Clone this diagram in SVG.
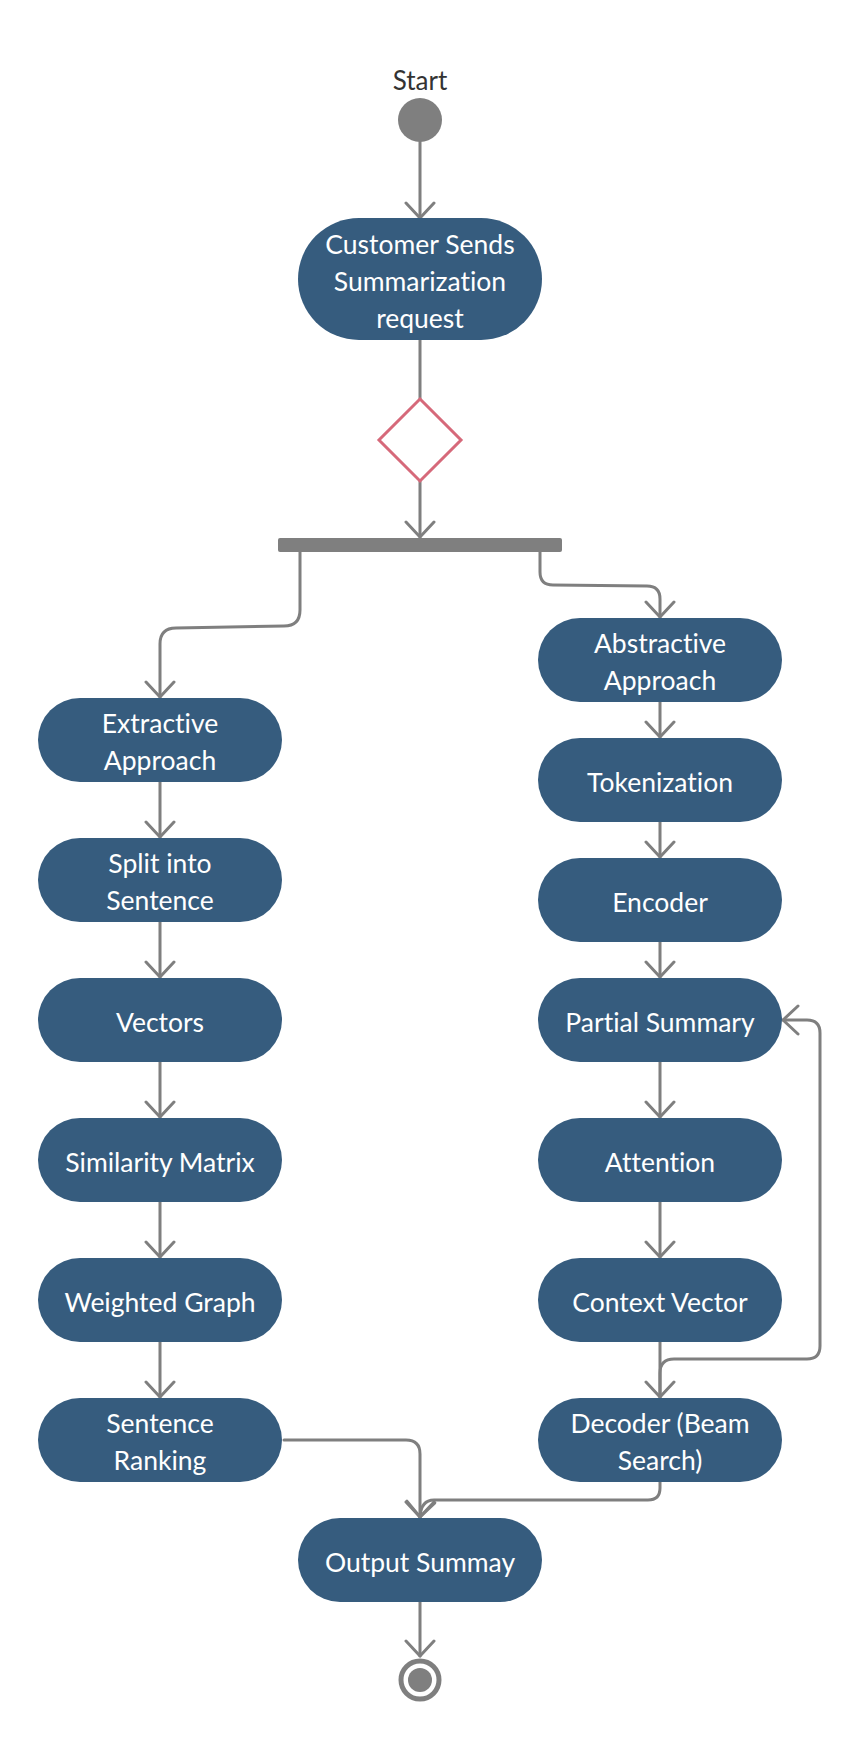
<svg xmlns="http://www.w3.org/2000/svg" width="860" height="1740" viewBox="0 0 860 1740">
<style>
.node rect{fill:#365c7e}
.node text{fill:#ffffff;font-family:Lato,"Open Sans","Liberation Sans",sans-serif;font-size:26.5px;text-anchor:middle;font-variant-ligatures:none}
.conn path{fill:none;stroke:#7f7f7f;stroke-width:3;stroke-linecap:round;stroke-linejoin:round}
.arr{marker-end:url(#arrow)}
</style>
<defs>
<marker id="arrow" markerUnits="userSpaceOnUse" viewBox="-18 -17 20 34" refX="0" refY="0" markerWidth="20" markerHeight="34" orient="auto">
<path d="M-15,-14 L0,0 L-15,14" fill="none" stroke="#7f7f7f" stroke-width="3" stroke-linecap="round" stroke-linejoin="round"/>
</marker>
</defs>
<rect width="860" height="1740" fill="#ffffff"/>

<g id="conns" class="conn">
<path class="arr" d="M420,142 L420,218"/>
<path d="M420,340 L420,399"/>
<path class="arr" d="M420,481 L420,537"/>
<path class="arr" d="M300,552 L300,610 Q300,626 284,626 L176,628 Q160,628 160,644 L160,697"/>
<path class="arr" d="M540,552 L540,572 Q540,585 553,585 L647,586 Q660,586 660,599 L660,617"/>
<path class="arr" d="M160,782 L160,837"/>
<path class="arr" d="M160,922 L160,977"/>
<path class="arr" d="M160,1062 L160,1117"/>
<path class="arr" d="M160,1202 L160,1257"/>
<path class="arr" d="M160,1342 L160,1397"/>
<path class="arr" d="M660,702 L660,737"/>
<path class="arr" d="M660,822 L660,857"/>
<path class="arr" d="M660,942 L660,977"/>
<path class="arr" d="M660,1062 L660,1117"/>
<path class="arr" d="M660,1202 L660,1257"/>
<path class="arr" d="M660,1342 L660,1397"/>
<path class="arr" d="M660,1397 L660,1373 Q660,1359 674,1359 L807,1359 Q820,1359 820,1346 L820,1033 Q820,1020 807,1020 L783,1020"/>
<path class="arr" d="M284,1440 L406,1440 Q420,1440 420,1454 L420,1517"/>
<path class="arr" d="M660,1482 L660,1488 Q660,1500 648,1500 L434,1500 Q421,1500 420,1517"/>
<path class="arr" d="M420,1602 L420,1656"/>
</g>

<g id="start">
<text x="420" y="90" font-family="Lato,'Open Sans','Liberation Sans',sans-serif" font-size="26" fill="#333333" text-anchor="middle">Start</text>
<circle cx="420" cy="120" r="22" fill="#7f7f7f"/>
</g>

<g id="customer" class="node">
<rect x="298" y="218" width="244" height="122" rx="61"/>
<text x="420" y="254">Customer Sends</text>
<text x="420" y="291">Summarization</text>
<text x="420" y="328">request</text>
</g>

<g id="decision">
<path d="M420,399 L461,440 L420,481 L379,440 Z" fill="#ffffff" stroke="#d6697a" stroke-width="3"/>
</g>

<g id="fork">
<rect x="278" y="538" width="284" height="14" rx="2" fill="#7f7f7f"/>
</g>

<g id="extractive" class="node">
<rect x="38" y="698" width="244" height="84" rx="42"/>
<text x="160" y="733">Extractive</text>
<text x="160" y="770">Approach</text>
</g>
<g id="split" class="node">
<rect x="38" y="838" width="244" height="84" rx="42"/>
<text x="160" y="873">Split into</text>
<text x="160" y="910">Sentence</text>
</g>
<g id="vectors" class="node">
<rect x="38" y="978" width="244" height="84" rx="42"/>
<text x="160" y="1032">Vectors</text>
</g>
<g id="similarity" class="node">
<rect x="38" y="1118" width="244" height="84" rx="42"/>
<text x="160" y="1172">Similarity Matrix</text>
</g>
<g id="weighted" class="node">
<rect x="38" y="1258" width="244" height="84" rx="42"/>
<text x="160" y="1312">Weighted Graph</text>
</g>
<g id="ranking" class="node">
<rect x="38" y="1398" width="244" height="84" rx="42"/>
<text x="160" y="1433">Sentence</text>
<text x="160" y="1470">Ranking</text>
</g>

<g id="abstractive" class="node">
<rect x="538" y="618" width="244" height="84" rx="42"/>
<text x="660" y="653">Abstractive</text>
<text x="660" y="690">Approach</text>
</g>
<g id="tokenization" class="node">
<rect x="538" y="738" width="244" height="84" rx="42"/>
<text x="660" y="792">Tokenization</text>
</g>
<g id="encoder" class="node">
<rect x="538" y="858" width="244" height="84" rx="42"/>
<text x="660" y="912">Encoder</text>
</g>
<g id="partial" class="node">
<rect x="538" y="978" width="244" height="84" rx="42"/>
<text x="660" y="1032">Partial Summary</text>
</g>
<g id="attention" class="node">
<rect x="538" y="1118" width="244" height="84" rx="42"/>
<text x="660" y="1172">Attention</text>
</g>
<g id="context" class="node">
<rect x="538" y="1258" width="244" height="84" rx="42"/>
<text x="660" y="1312">Context Vector</text>
</g>
<g id="decoder" class="node">
<rect x="538" y="1398" width="244" height="84" rx="42"/>
<text x="660" y="1433">Decoder (Beam</text>
<text x="660" y="1470">Search)</text>
</g>

<g id="output" class="node">
<rect x="298" y="1518" width="244" height="84" rx="42"/>
<text x="420" y="1572">Output Summay</text>
</g>

<g id="end">
<circle cx="420" cy="1680" r="19" fill="none" stroke="#7f7f7f" stroke-width="5"/>
<circle cx="420" cy="1680" r="12" fill="#7f7f7f"/>
</g>
</svg>
